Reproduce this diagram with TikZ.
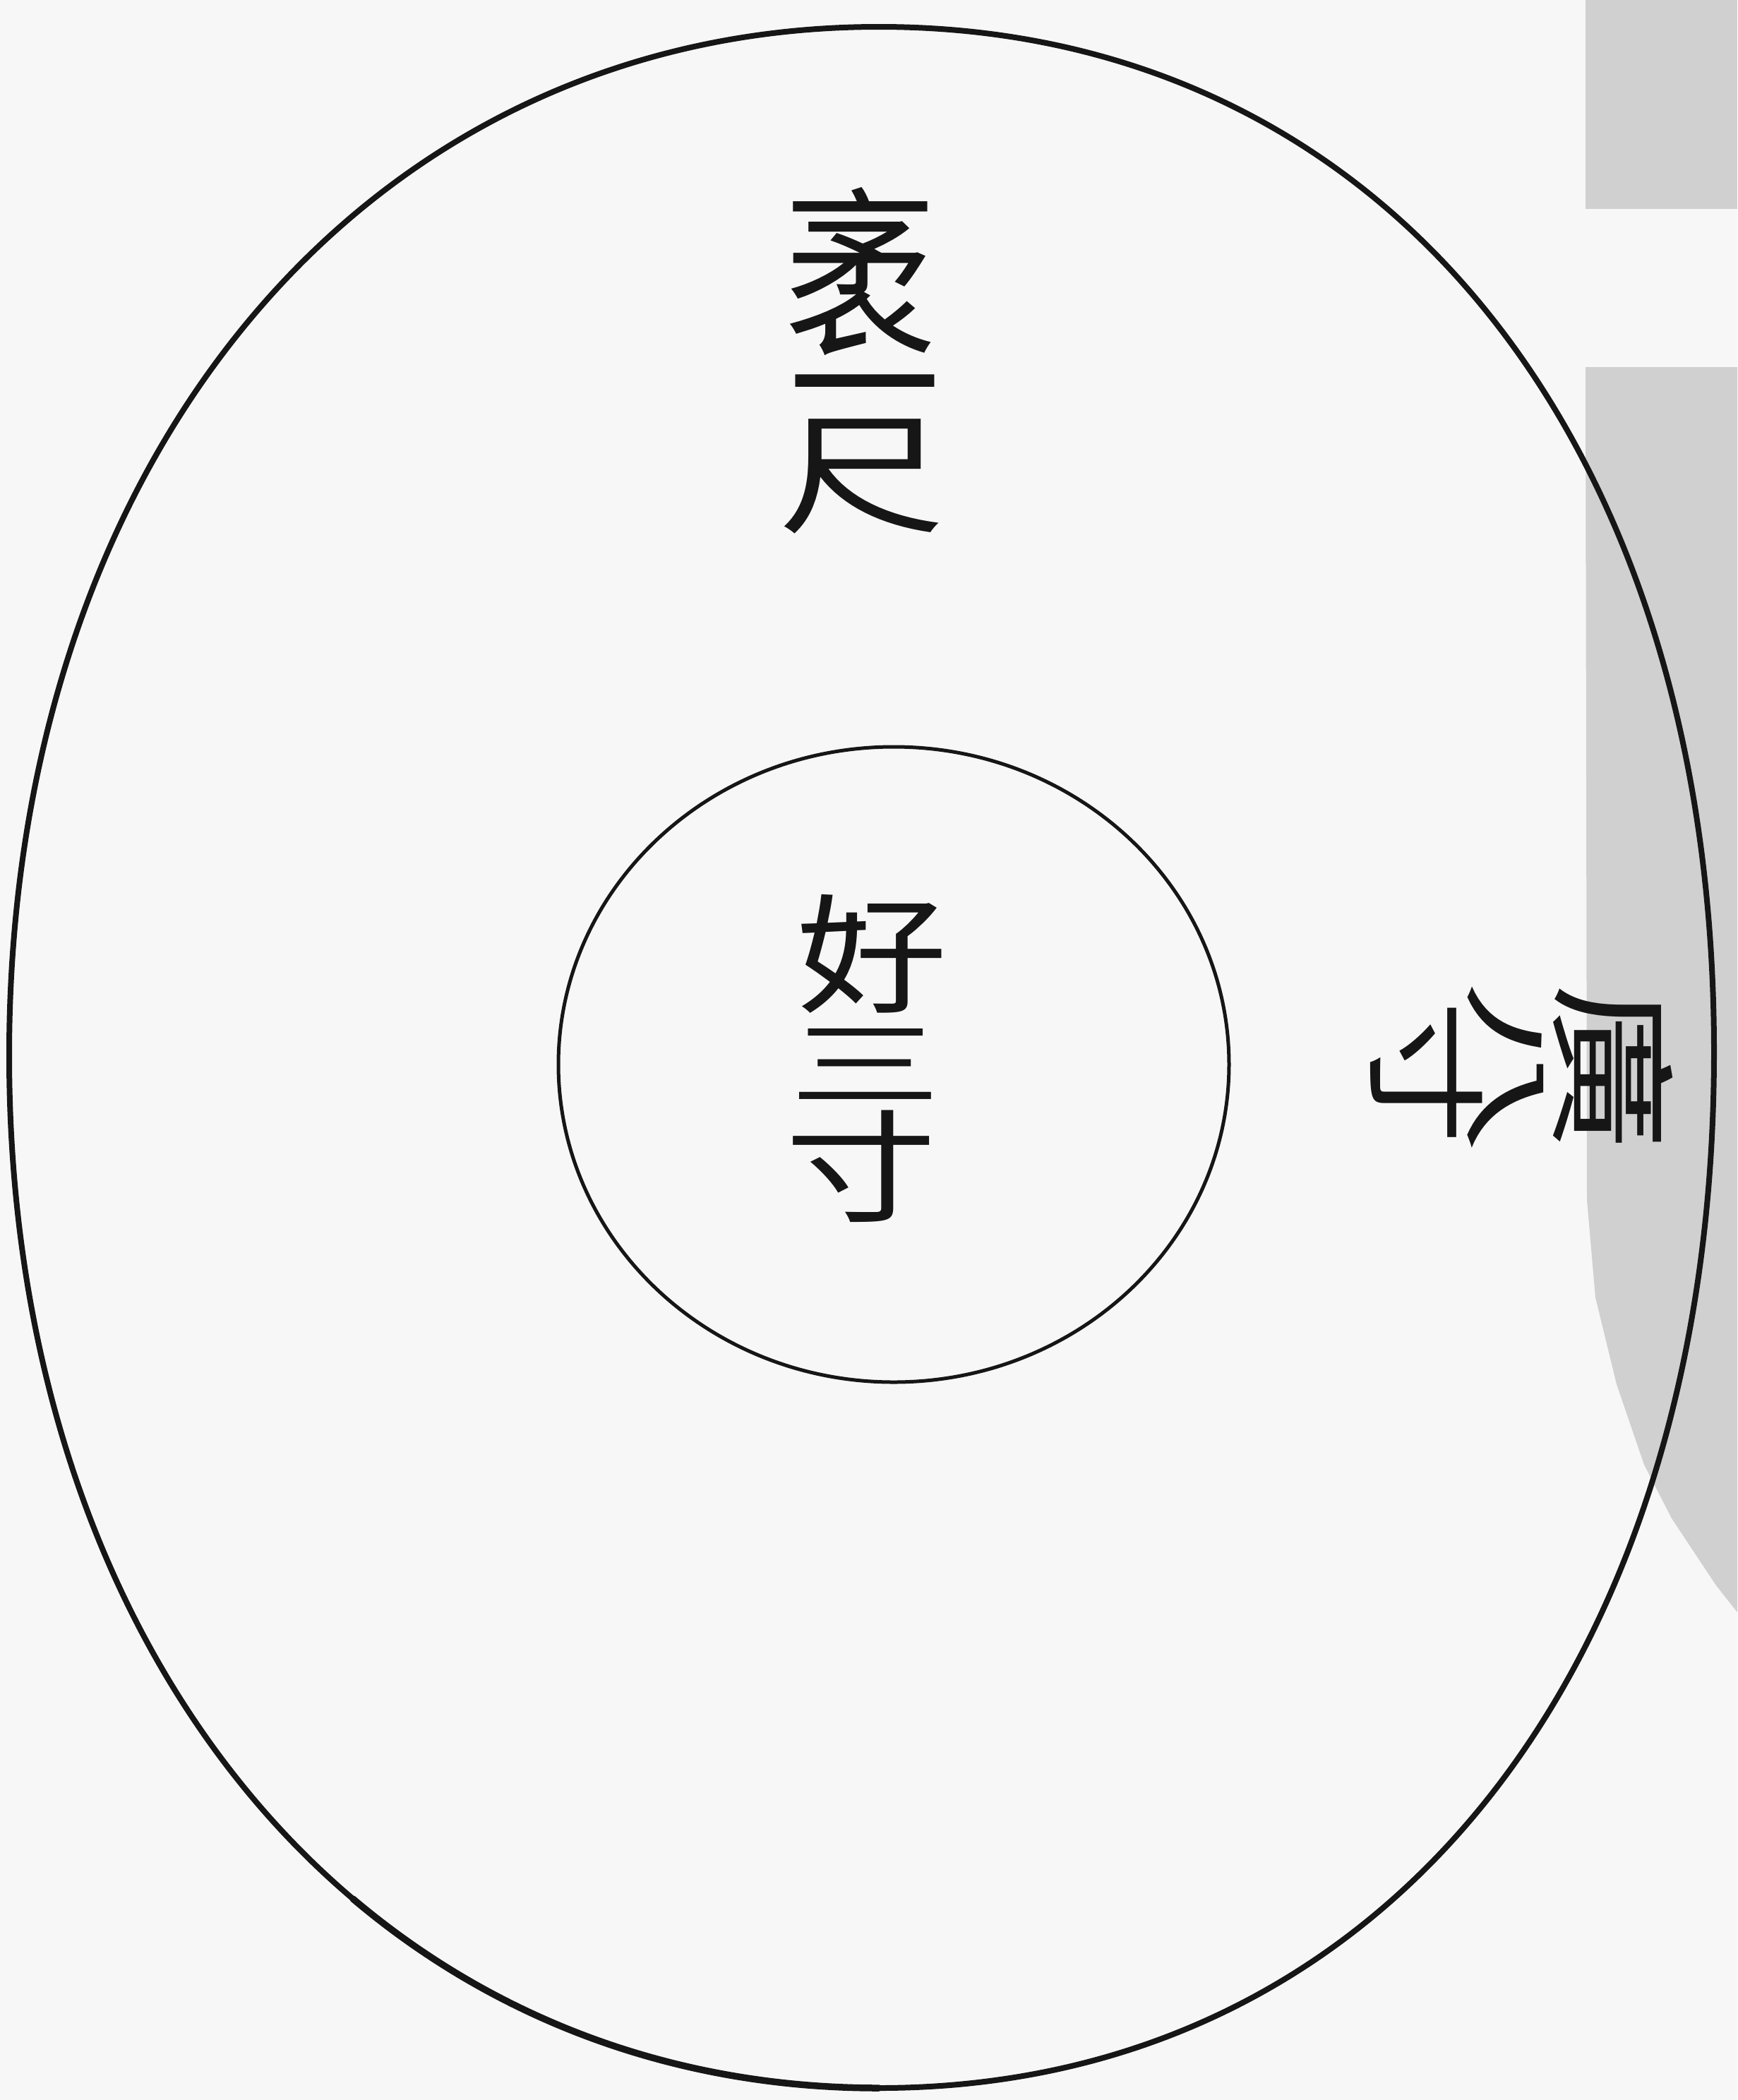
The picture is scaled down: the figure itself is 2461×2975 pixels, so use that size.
\documentclass[tikz,border=0pt]{standalone}
\usepackage{fontspec}
\newfontfamily\cjk{Noto Sans CJK TC}
\definecolor{paper}{HTML}{F7F7F7}
\definecolor{shade}{HTML}{D0D0D0}
\definecolor{ink}{HTML}{161616}
\begin{document}
\begin{tikzpicture}[x=1pt,y=-1pt,
  outline/.style={draw=ink, line width=8pt, line cap=round, line join=round},
  heavy/.style={draw=ink, line width=9.5pt, line cap=round},
  hole/.style={draw=ink, line width=5pt},
  glyph/.style={font=\cjk\fontsize{215}{215}\selectfont, text=ink, inner sep=0pt, anchor=center},
  panel/.style={fill=shade, draw=none}]
\fill[paper] (0,0) rectangle (2461,2975);
\useasboundingbox (0,0) rectangle (2461,2975);
% grey panels at the right edge
\fill[panel] (2246,0) rectangle (2461,296);
\fill[panel] (2246,520) -- (2461,520) -- (2461,2284) -- (2431,2246) -- (2368,2151)
  -- (2329,2075) -- (2290,1961) -- (2260,1838) -- (2248,1700) -- cycle;
% outer egg outline
\coordinate (T) at (1245,38);
\coordinate (L) at (13,1495);
\coordinate (F) at (500,2690);
\coordinate (B) at (1245,2958);
\coordinate (R) at (2428,1490);
\draw[outline] (B) .. controls (1955,2958) and (2428,2371) .. (R)
  .. controls (2428,619) and (1955,38) .. (T)
  .. controls (524,38) and (13,643) .. (L)
  .. controls (13,2009) and (197,2433) .. (F);
\draw[heavy] (F) .. controls (702,2861) and (957,2958) .. (B);
% inner hole
\draw[hole] (1266,1508) ellipse [x radius=475, y radius=450];
% labels
\node[glyph, yscale=1.2] (mao) at (1219,385) {袤};
\node[glyph] (yi) at (1225,577) {一};
\node[glyph, xscale=1.1, yscale=0.88] (chi) at (1221,675) {尺};
\node[glyph, yscale=0.85] (hao) at (1235,1351) {好};
\node[glyph, yscale=0.62] (san) at (1226,1507) {三};
\node[glyph, yscale=0.8] (cun) at (1220,1652) {寸};
\node[glyph, rotate=-90, xscale=0.95, yscale=0.8] (cunb) at (2021,1520) {寸};
\node[glyph, rotate=-90, xscale=1.15, yscale=0.58] (ba) at (2133,1512) {八};
\node[glyph, rotate=-90, xscale=1.1, yscale=0.85] (guang) at (2285,1512) {廣};
\end{tikzpicture}
\end{document}
